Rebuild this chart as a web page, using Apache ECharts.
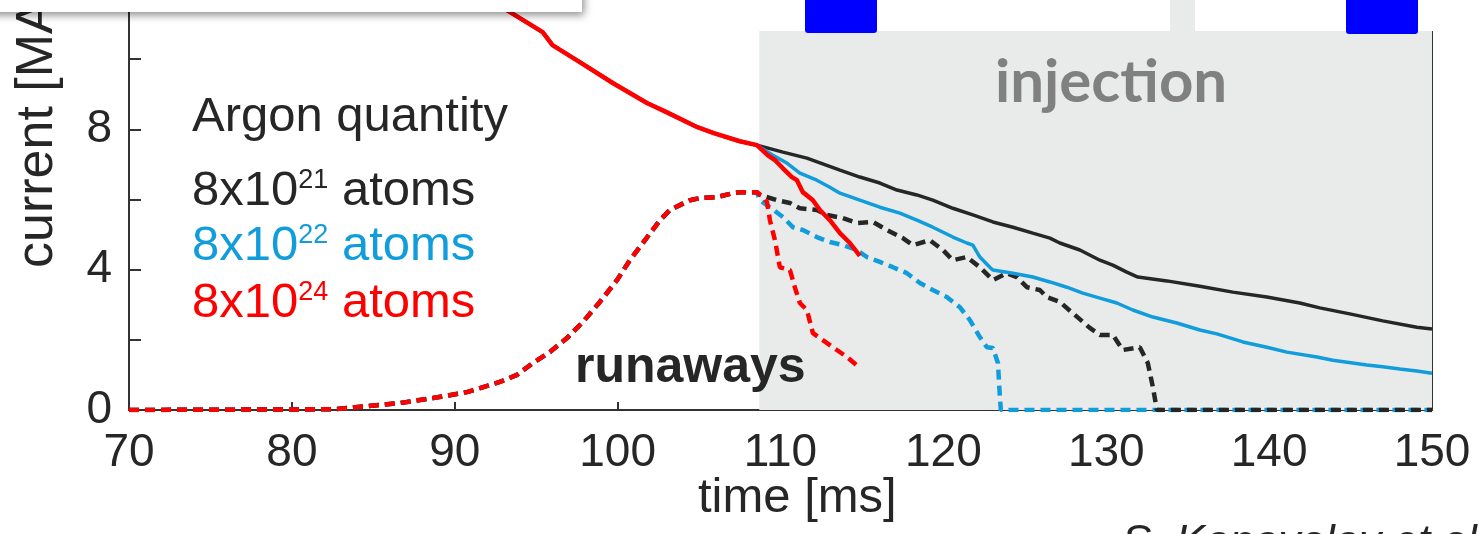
<!DOCTYPE html>
<html>
<head>
<meta charset="utf-8">
<script src="https://cdn.jsdelivr.net/npm/echarts@6/dist/echarts.min.js"></script>
<style>
  html, body { margin: 0; padding: 0; background: #fff; }
  #chart { width: 1479px; height: 534px; }
</style>
</head>
<body>
<div id="chart"></div>
<script>
// axis ticks
var timeTicks = [70, 80, 90, 100, 110, 120, 130, 140, 150];
var currentLabels = [0, 4, 8];
var injectionStart = 108.7;

// total current before injection (all three cases overlap)
var commonCurrent = [[89, 12.6], [90.9, 12.02], [93.4, 11.34], [95.4, 10.77], [96.0, 10.40], [97.7, 9.91],
  [99.7, 9.32], [101.8, 8.75], [103.0, 8.49], [104.9, 8.06], [105.9, 7.89], [107.5, 7.66], [108.55, 7.55]];

// total current after injection
var current21 = [[110.15, 7.35], [111.62, 7.18], [113.65, 6.84], [114.87, 6.64], [116.10, 6.47], [117.15, 6.27],
  [118.37, 6.13], [119.35, 5.98], [120.58, 5.75], [121.81, 5.56], [123.04, 5.36], [124.27, 5.21], [125.49, 5.04],
  [126.54, 4.90], [127.15, 4.76], [128.38, 4.56], [129.61, 4.27], [130.40, 4.13], [131.26, 3.93], [131.94, 3.79],
  [133.72, 3.68], [135.75, 3.53], [137.77, 3.36], [139.86, 3.22], [141.88, 3.05], [143.11, 2.91], [144.95, 2.74],
  [146.98, 2.54], [149.07, 2.36], [150, 2.31]];
var current22 = [[109.53, 7.26], [110.39, 7.04], [111.19, 6.75], [112.23, 6.55], [113.03, 6.35], [113.65, 6.18],
  [114.87, 5.98], [116.10, 5.78], [117.33, 5.61], [118.37, 5.41], [119.35, 5.21], [120.58, 4.93], [121.44, 4.76],
  [121.81, 4.70], [122.24, 4.36], [122.85, 4.07], [123.04, 3.99], [124.27, 3.90], [125.49, 3.79], [126.54, 3.65],
  [127.58, 3.50], [128.56, 3.33], [129.61, 3.19], [130.65, 3.05], [131.63, 2.85], [132.86, 2.65], [134.33, 2.48],
  [135.75, 2.28], [136.79, 2.17], [138.39, 1.94], [139.86, 1.79], [141.09, 1.65], [142.93, 1.51], [143.91, 1.42],
  [146.00, 1.28], [146.98, 1.23], [148.02, 1.17], [149.07, 1.11], [150, 1.05]];
var current24 = [[109.23, 7.26], [109.66, 7.12], [110.15, 6.89], [110.70, 6.64], [111.01, 6.55], [111.37, 6.21],
  [111.99, 5.98], [112.42, 5.70], [113.03, 5.41], [113.65, 5.04], [114.26, 4.76], [114.87, 4.39]];

// runaway current before injection (all three cases overlap)
var commonRunaway = [[70, 0], [82.5, 0.02], [84.61, 0.11], [86.64, 0.20], [88.66, 0.34], [90.75, 0.51],
  [92.77, 0.80], [93.82, 1.00], [94.80, 1.34], [95.84, 1.65], [96.89, 2.05], [97.87, 2.51], [98.91, 3.08],
  [99.96, 3.70], [100.75, 4.27], [101.68, 4.84], [102.60, 5.41], [103.21, 5.70], [104.44, 5.98], [105.05, 6.04],
  [106.10, 6.07], [107.08, 6.18], [107.69, 6.21], [108.55, 6.21]];

// runaway current after injection
var runaway21 = [[108.74, 6.13], [109.78, 5.98], [110.58, 5.90], [111.19, 5.75], [112.23, 5.70], [112.85, 5.56],
  [113.83, 5.47], [114.69, 5.33], [115.67, 5.36], [116.53, 5.13], [117.51, 4.90], [118.13, 4.70], [119.17, 4.84],
  [119.97, 4.56], [120.58, 4.27], [121.44, 4.36], [122.24, 4.07], [123.04, 3.70], [123.90, 3.90], [124.51, 3.79],
  [125.13, 3.50], [125.92, 3.42], [126.35, 3.22], [127.15, 3.08], [128.07, 2.71], [128.99, 2.34], [129.61, 2.14],
  [130.40, 2.14], [131.02, 1.71], [132.06, 1.79], [132.55, 1.34], [132.86, 0.66], [133.11, 0], [150, 0]];
var runaway22 = [[108.74, 5.98], [109.35, 5.78], [110.15, 5.50], [110.76, 5.21], [111.37, 5.13], [112.23, 4.93],
  [113.03, 4.79], [113.83, 4.70], [114.69, 4.56], [115.30, 4.36], [116.10, 4.22], [116.90, 4.07], [117.76, 3.90],
  [118.56, 3.62], [119.35, 3.42], [120.21, 3.22], [121.01, 2.93], [121.63, 2.56], [122.24, 2.08], [122.67, 1.79],
  [123.04, 1.77], [123.35, 1.34], [123.47, 0.37], [123.53, 0], [150, 0]];
var runaway24 = [[108.92, 6.07], [109.17, 5.93], [109.35, 5.41], [109.66, 4.84], [109.96, 4.07], [110.58, 3.99],
  [110.88, 3.50], [111.19, 3.05], [111.62, 2.85], [111.99, 2.19], [112.60, 1.99], [113.46, 1.71], [114.08, 1.51],
  [114.87, 1.20]];

var BLACK = '#262626', BLUE = '#119cdc', RED = '#ff0000';
var sans = '"Liberation Sans", Arial, sans-serif';

var myChart = echarts.init(document.getElementById('chart'), null, { renderer: 'canvas' });

function legendLine(text, color, y) {
  return {
    type: 'text', left: 192, top: y, z: 100,
    style: {
      text: text, fill: color, font: '49px ' + sans,
      rich: { sup: { fontSize: 27, fontFamily: sans, fill: color, verticalAlign: 'top', lineHeight: 49 } }
    }
  };
}

var option = {
  animation: false,
  grid: { left: 129, right: 47, top: -11, bottom: 124, outerBoundsMode: 'none' },
  xAxis: {
    type: 'value', min: 70, max: 150, interval: 10,
    axisLine: { lineStyle: { color: '#333', width: 2 } },
    axisTick: { inside: true, length: 8, lineStyle: { color: '#333', width: 2 } },
    axisLabel: {
      fontSize: 46, fontFamily: sans, color: BLACK, margin: 20, showMinLabel: true, showMaxLabel: true,
      hideOverlap: false,
      formatter: function (v) { return timeTicks.indexOf(v) >= 0 ? String(v) : ''; }
    },
    splitLine: { show: false }
  },
  yAxis: [
    {
      type: 'value', min: 0, max: 12, interval: 2,
      axisLine: { show: true, lineStyle: { color: '#333', width: 2 } },
      axisTick: { inside: true, length: 12, lineStyle: { color: '#333', width: 2 } },
      axisLabel: {
        fontSize: 46, fontFamily: sans, color: BLACK, margin: 17,
        formatter: function (v) { return currentLabels.indexOf(v) >= 0 ? String(v) : ''; }
      },
      splitLine: { show: false }
    },
    {
      type: 'value', min: 0, max: 12, interval: 2, position: 'right',
      axisLine: { show: true, lineStyle: { color: '#333', width: 2 } },
      axisTick: { inside: true, length: 12, lineStyle: { color: '#333', width: 2 } },
      axisLabel: { show: false },
      splitLine: { show: false }
    }
  ],
  series: [
    {
      name: 'runaways 8e22', type: 'line', symbol: 'none',
      data: commonRunaway.concat(runaway22),
      lineStyle: { color: BLUE, width: 4.5, type: [10, 6] },
      markArea: {
        silent: true,
        itemStyle: { color: '#e9ebeb' },
        data: [[{ xAxis: injectionStart }, { xAxis: 150 }]]
      }
    },
    {
      name: 'runaways 8e21', type: 'line', symbol: 'none',
      data: commonRunaway.concat(runaway21),
      lineStyle: { color: BLACK, width: 4.5, type: [10, 6] }
    },
    {
      name: 'runaways 8e24', type: 'line', symbol: 'none',
      data: commonRunaway.concat(runaway24),
      lineStyle: { color: RED, width: 4.5, type: [10, 6] }
    },
    {
      name: 'current 8e21', type: 'line', symbol: 'none',
      data: commonCurrent.concat(current21),
      lineStyle: { color: BLACK, width: 3.5 }
    },
    {
      name: 'current 8e22', type: 'line', symbol: 'none',
      data: commonCurrent.concat(current22),
      lineStyle: { color: BLUE, width: 3.5 }
    },
    {
      name: 'current 8e24', type: 'line', symbol: 'none',
      data: commonCurrent.concat(current24),
      lineStyle: { color: RED, width: 4.5 }
    }
  ],
  graphic: [
    // boxes cropped at the top of the slide
    { type: 'rect', z: 100, shape: { x: 657, y: -10, width: 513, height: 41 }, style: { fill: '#fff' } },
    { type: 'rect', z: 100, shape: { x: 1195, y: -10, width: 300, height: 41 }, style: { fill: '#fff' } },
    { type: 'rect', z: 101, shape: { x: 805, y: -10, width: 72, height: 43, r: 3 }, style: { fill: '#0000ff' } },
    { type: 'rect', z: 101, shape: { x: 1346, y: -10, width: 72, height: 44, r: 3 }, style: { fill: '#0000ff' } },
    {
      type: 'rect', z: 102, shape: { x: -20, y: -40, width: 602, height: 52 },
      style: { fill: '#fff', shadowBlur: 8, shadowOffsetY: 3, shadowOffsetX: 2, shadowColor: 'rgba(0,0,0,0.45)' }
    },
    // labels
    { type: 'text', left: 192, top: 93, z: 100, style: { text: 'Argon quantity', fill: BLACK, font: '49px ' + sans } },
    legendLine('8x10{sup|21} atoms', BLACK, 167),
    legendLine('8x10{sup|22} atoms', BLUE, 222),
    legendLine('8x10{sup|24} atoms', RED, 279),
    { type: 'text', left: 995, top: 53, z: 100, style: { text: 'injection', fill: '#808080', font: 'bold 60px Lato, sans-serif' } },
    { type: 'text', left: 575, top: 343, z: 100, style: { text: 'runaways', fill: BLACK, font: 'bold 50px ' + sans } },
    { type: 'text', left: 698, top: 474, z: 100, style: { text: 'time [ms]', fill: BLACK, font: '49px ' + sans } },
    {
      type: 'text', z: 100, x: 64, y: 268, rotation: Math.PI / 2,
      style: { text: 'current [MA]', fill: BLACK, font: '52px ' + sans, align: 'left', verticalAlign: 'bottom' }
    },
    { type: 'text', left: 1122, top: 522, z: 100, style: { text: 'S. Konovalov et al.', fill: BLACK, font: 'italic 44px ' + sans } }
  ]
};

myChart.setOption(option);
</script>
</body>
</html>
